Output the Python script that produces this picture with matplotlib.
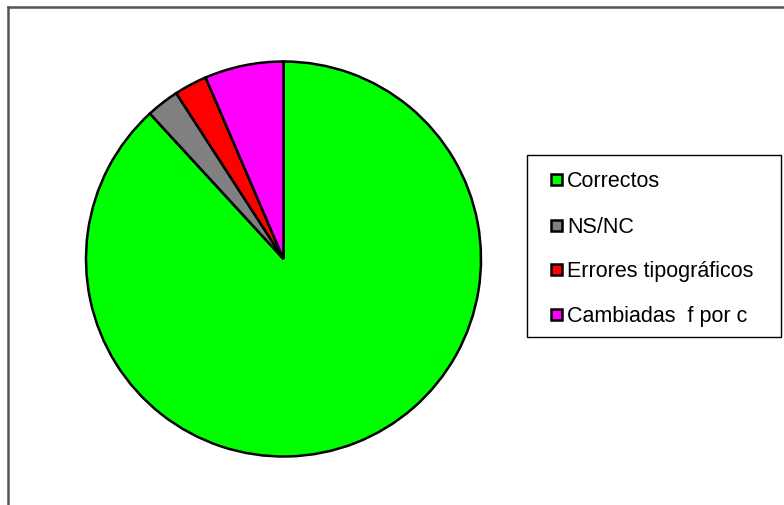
import matplotlib.pyplot as plt
from matplotlib.patches import Rectangle
from matplotlib.lines import Line2D

plt.rcParams['font.family'] = ['Liberation Sans', 'DejaVu Sans']

categorias = ['Correctos', 'NS/NC', 'Errores tipográficos', 'Cambiadas  f por c']
valores = [164, 5, 5, 12]
colores = ['#00ff00', '#808080', '#ff0000', '#ff00ff']

W, H = 784, 506
fig = plt.figure(figsize=(W / 100, H / 100), dpi=100)

# pie axes: centre (283.5, 260) px, radius 197.5 px (limits padded by 1%)
cx, cy, r = 283.5, 260, 197.5 * 1.01
ax = fig.add_axes([(cx - r) / W, (H - cy - r) / H, 2 * r / W, 2 * r / H])
ax.pie(valores, colors=colores, startangle=90, counterclock=False,
       wedgeprops=dict(edgecolor='black', linewidth=1.8), radius=1)
ax.set_xlim(-1.01, 1.01)
ax.set_ylim(-1.01, 1.01)
ax.set_axis_off()


def px(x, y):
    # pixel coords from top-left -> figure fraction
    return x / W, 1 - y / H


# outer frame (only top and left edges visible)
fig.add_artist(Line2D([8 / W, 8 / W], [0, 1 - 8 / H], color='#555555', lw=1.8,
                      transform=fig.transFigure))
fig.add_artist(Line2D([8 / W, 1], [1 - 8 / H, 1 - 8 / H], color='#555555', lw=1.8,
                      transform=fig.transFigure))

# legend box
x0, y0 = px(527, 338)
fig.add_artist(Rectangle((x0, y0), (781 - 527) / W, (338 - 156) / H,
                         facecolor='white', edgecolor='black', lw=1.0,
                         transform=fig.transFigure))
filas = [180, 226, 270, 315]
for nombre, color, fy in zip(categorias, colores, filas):
    sx, sy = px(551, fy + 5.5)
    fig.add_artist(Rectangle((sx, sy), 11 / W, 11 / H, facecolor=color,
                             edgecolor='black', lw=1.8, transform=fig.transFigure))
    tx, ty = px(567, fy + 7)
    fig.text(tx, ty, nombre, fontsize=15.5, va='baseline', ha='left')

fig.savefig('out.png', dpi=100)
